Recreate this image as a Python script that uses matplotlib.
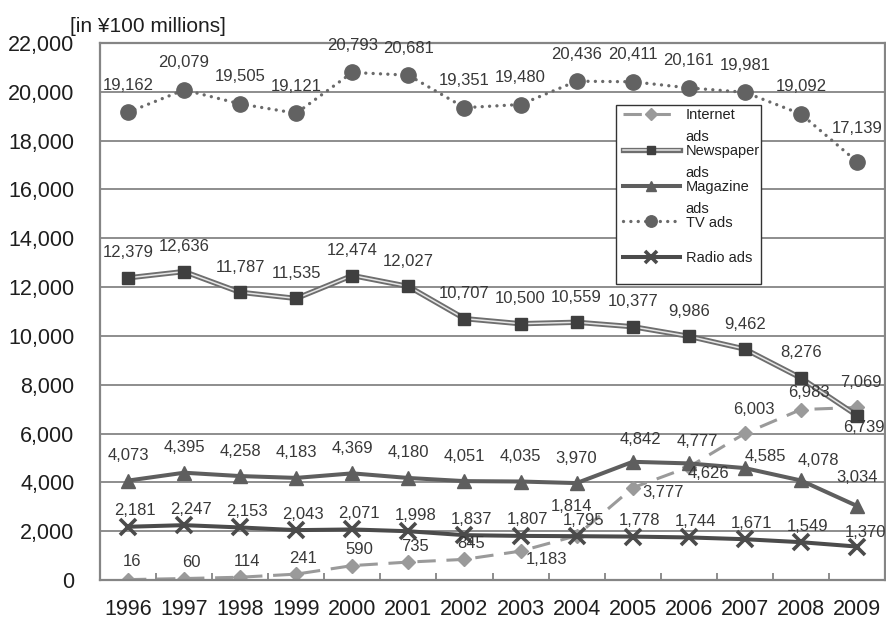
import numpy as np
import matplotlib
matplotlib.use("Agg")
import matplotlib.pyplot as plt
from matplotlib.patches import Rectangle

plt.rcParams['font.family'] = ['Liberation Sans', 'DejaVu Sans']

years = ["1996", "1997", "1998", "1999", "2000", "2001", "2002",
         "2003", "2004", "2005", "2006", "2007", "2008", "2009"]

internet = [16, 60, 114, 241, 590, 735, 845, 1183, 1814, 3777, 4626, 6003, 6983, 7069]
newspaper = [12379, 12636, 11787, 11535, 12474, 12027, 10707, 10500, 10559, 10377,
             9986, 9462, 8276, 6739]
magazine = [4073, 4395, 4258, 4183, 4369, 4180, 4051, 4035, 3970, 4842, 4777, 4585,
            4078, 3034]
tv = [19162, 20079, 19505, 19121, 20793, 20681, 19351, 19480, 20436, 20411, 20161,
      19981, 19092, 17139]
radio = [2181, 2247, 2153, 2043, 2071, 1998, 1837, 1807, 1795, 1778, 1744, 1671, 1549, 1370]

# label offsets in pixels (dx, dy), defaults plus a few per-year tweaks
net_off = {0: (4, 18), 7: (26, -8), 8: (-5, 29), 9: (30, -5), 10: (20, -6),
           11: (9, 24), 12: (8, 17), 13: (4, 25)}
np_off = {13: (7, -12)}
mag_off = {9: (8, 22), 10: (9, 22), 11: (21, 12), 12: (17, 20), 13: (0, 28)}
tv_off = {13: (0, 33)}
radio_off = {13: (9, 14)}

fig = plt.figure(figsize=(8.86, 6.23), dpi=100)
ax = fig.add_axes([100/886, 43/623, 785/886, 537/623])
x = np.arange(len(years))

l_net, = ax.plot(x, internet, color='#9a9a9a', lw=2.2, dashes=(6, 3.5),
                 marker='D', ms=7.5, mfc='#9a9a9a', mec='#9a9a9a', zorder=2)
l_np1, = ax.plot(x, newspaper, color='#6e6e6e', lw=3.8, solid_joinstyle='round', zorder=2)
l_np2, = ax.plot(x, newspaper, color='#e6e6e6', lw=1.1, solid_joinstyle='round', zorder=2)
l_np3, = ax.plot(x, newspaper, ls='none', marker='s', ms=8, mfc='#3f3f3f', mec='#3f3f3f', zorder=2)
l_mag, = ax.plot(x, magazine, color='#5e5e5e', lw=2.9, marker='^', ms=10,
                 mfc='#5e5e5e', mec='#5e5e5e', zorder=2)
l_tv, = ax.plot(x, tv, color='#6a6a6a', lw=2.4, dashes=(0.01, 2.2), dash_capstyle='round',
                marker='o', ms=11, mfc='#626262', mec='#626262', zorder=2)
l_rad, = ax.plot(x, radio, color='#4b4b4b', lw=2.9, marker='x', ms=11, mew=2.6,
                 mec='#4b4b4b', zorder=2)


def put_labels(vals, offs, default):
    for i, v in enumerate(vals):
        dx, dy = offs.get(i, default)
        ax.annotate(f"{v:,}", (x[i], v), xytext=(dx, dy), textcoords='offset pixels',
                    ha='center', va='center', fontsize=12, color='#383838',
                    annotation_clip=False, zorder=6)


put_labels(internet, net_off, (7, 16))
put_labels(newspaper, np_off, (0, 25))
put_labels(magazine, mag_off, (0, 25))
put_labels(tv, tv_off, (0, 27))
put_labels(radio, radio_off, (7, 16))

ax.set_xlim(-0.5, len(years) - 0.5)
ax.set_ylim(0, 22000)
ax.set_yticks(np.arange(0, 22001, 2000))
ax.set_yticklabels([f"{v:,}" for v in range(0, 22001, 2000)])
ax.set_xticks(x)
ax.set_xticklabels(years)
ax.set_xticks(np.arange(-0.5, len(years), 1), minor=True)
ax.tick_params(axis='x', which='major', length=0, pad=13.5, labelsize=15.5, labelcolor='#1e1e1e')
ax.tick_params(axis='x', which='minor', direction='in', length=5, width=1.2, color='#7a7a7a')
ax.tick_params(axis='y', length=0, pad=18.5, labelsize=15.5, labelcolor='#1e1e1e')
ax.grid(axis='y', color='#858585', lw=1.3)
ax.set_axisbelow(True)
for s in ax.spines.values():
    s.set_color('#858585')
    s.set_linewidth(1.6)

fig.text(70/886, 0.958, "[in \u00a5100 millions]", fontsize=15, color='#1e1e1e',
         ha='left', va='center')

# legend box
box = Rectangle(((616-100)/785, (580-284)/537), 145/785, 179/537, transform=ax.transAxes,
                fc='white', ec='#333333', lw=1, zorder=4)
ax.add_patch(box)
leg = ax.legend([l_net, (l_np1, l_np2, l_np3), l_mag, l_tv, l_rad],
                ["Internet", "Newspaper", "Magazine", "TV ads", "Radio ads"],
                loc='upper left', bbox_to_anchor=((620-100)/785, (580-105)/537),
                frameon=False, fontsize=10.5, handlelength=3.9, handletextpad=0.4,
                labelspacing=1.5, borderpad=0.2, borderaxespad=0, markerscale=0.75)
leg.set_zorder(5)
for t in leg.get_texts()[:3]:
    ax.annotate("ads", xy=(0, 0), xycoords=t, xytext=(0, -6), textcoords='offset points',
                ha='left', va='top', fontsize=10.5, color='#222222', zorder=7)
for t in leg.get_texts():
    t.set_color('#222222')

fig.savefig("out.png", dpi=100)
